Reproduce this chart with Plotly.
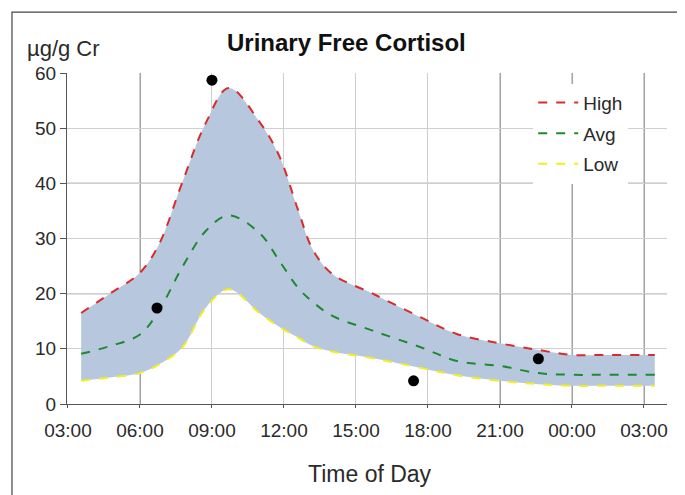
import plotly.graph_objects as go

# ── data ──
HOURS = [3.55, 4.75, 6, 6.8, 7.75, 8.75, 9.7, 11, 11.8, 12.6, 13.2, 14, 15.7, 17.75, 19.2, 21, 22.6, 24, 25.5, 27.45]
HIGH = [16.5, 20, 23.8, 29, 40, 51, 57.3, 51, 45, 35, 28, 23.6, 20, 15.6, 12.7, 11, 9.8, 8.9, 8.9, 8.9]
AVG = [9.1, 10.5, 12.6, 17, 24.7, 31.4, 34.2, 30.9, 26, 21, 18.5, 16, 13.3, 10.2, 7.8, 6.9, 5.6, 5.3, 5.3, 5.3]
LOW = [4.2, 4.8, 5.6, 7.2, 10.2, 17.5, 20.8, 16.4, 14, 12, 10.5, 9.5, 8.3, 6.5, 5.2, 4.2, 3.6, 3.3, 3.3, 3.3]
SAMPLE_H = [6.71, 9.0, 17.4, 22.6]
SAMPLE_V = [17.4, 58.7, 4.2, 8.2]
TICK_H = [3, 6, 9, 12, 15, 18, 21, 24, 27]
TICK_TXT = ["03:00", "06:00", "09:00", "12:00", "15:00", "18:00", "21:00", "00:00", "03:00"]
Y_TICKS = [0, 10, 20, 30, 40, 50, 60]
DARK_X = [6, 21, 24, 27]
DARK_Y = [20, 30, 40]

FONT = "Liberation Sans, Arial, sans-serif"
FILL = "#b7c8de"
INK = "#2a2a2a"

fig = go.Figure()
fig.add_trace(go.Scatter(x=HOURS, y=LOW, mode="lines", line=dict(width=0, shape="spline"),
                         showlegend=False, hoverinfo="skip"))
fig.add_trace(go.Scatter(x=HOURS, y=HIGH, mode="lines", line=dict(width=0, shape="spline"),
                         fill="tonexty", fillcolor=FILL, showlegend=False, hoverinfo="skip"))
for name, ys, col in [("High", HIGH, "#d92b2b"), ("Avg", AVG, "#1e8a30"), ("Low", LOW, "#f0f020")]:
    fig.add_trace(go.Scatter(x=HOURS, y=ys, mode="lines", name=name, legendgroup=name,
                             line=dict(color=col, width=2, dash="dash", shape="spline")))
fig.add_trace(go.Scatter(x=SAMPLE_H, y=SAMPLE_V, mode="markers", showlegend=False, cliponaxis=False,
                         marker=dict(color="black", size=11)))

shapes = [dict(type="line", xref="x", yref="paper", x0=h, x1=h, y0=0, y1=1, layer="below",
               line=dict(color="#333", width=1)) for h in DARK_X]
shapes += [dict(type="line", xref="paper", yref="y", x0=0, x1=1, y0=v, y1=v, layer="below",
                line=dict(color="#333", width=1)) for v in DARK_Y]
# outer frame
shapes.append(dict(type="rect", xref="paper", yref="paper", x0=-0.0917, x1=1.025, y0=-0.3, y1=1.184,
                   line=dict(color="#444", width=1.2), fillcolor="rgba(0,0,0,0)"))

fig.update_layout(
    width=677, height=487, margin=dict(l=59, r=18, t=65, b=91),
    paper_bgcolor="white", plot_bgcolor="white",
    font=dict(family=FONT, size=19, color=INK),
    showlegend=True,
    legend=dict(x=0.777, y=0.968, xanchor="left", yanchor="top", bgcolor="white",
                font=dict(size=19), traceorder="grouped", tracegroupgap=3, itemwidth=40,
                entrywidth=115),
    shapes=shapes,
    annotations=[
        dict(text="<b>Urinary Free Cortisol</b>", xref="paper", yref="paper", x=0.465, y=1.091,
             xanchor="center", yanchor="middle", showarrow=False, font=dict(size=24, color="#111")),
        dict(text="µg/g Cr", xref="paper", yref="paper", x=-0.07, y=1.075,
             xanchor="left", yanchor="middle", showarrow=False, font=dict(size=22)),
        dict(text="Time of Day", xref="paper", yref="paper", x=0.505, y=-0.211,
             xanchor="center", yanchor="middle", showarrow=False, font=dict(size=23)),
    ],
)
fig.update_xaxes(range=[2.96, 27.96], tickmode="array", tickvals=TICK_H, ticktext=TICK_TXT,
                 showgrid=True, gridcolor="#cfcfcf", gridwidth=1, zeroline=False,
                 showline=True, linecolor="#555", ticks="outside", ticklen=3, tickcolor="#555",
                 ticklabelstandoff=6)
fig.update_yaxes(range=[0, 60], tickmode="array", tickvals=Y_TICKS,
                 showgrid=True, gridcolor="#cfcfcf", gridwidth=1, zeroline=False,
                 showline=True, linecolor="#555", ticks="outside", ticklen=6, tickcolor="#555")

fig.write_html("out.html")
